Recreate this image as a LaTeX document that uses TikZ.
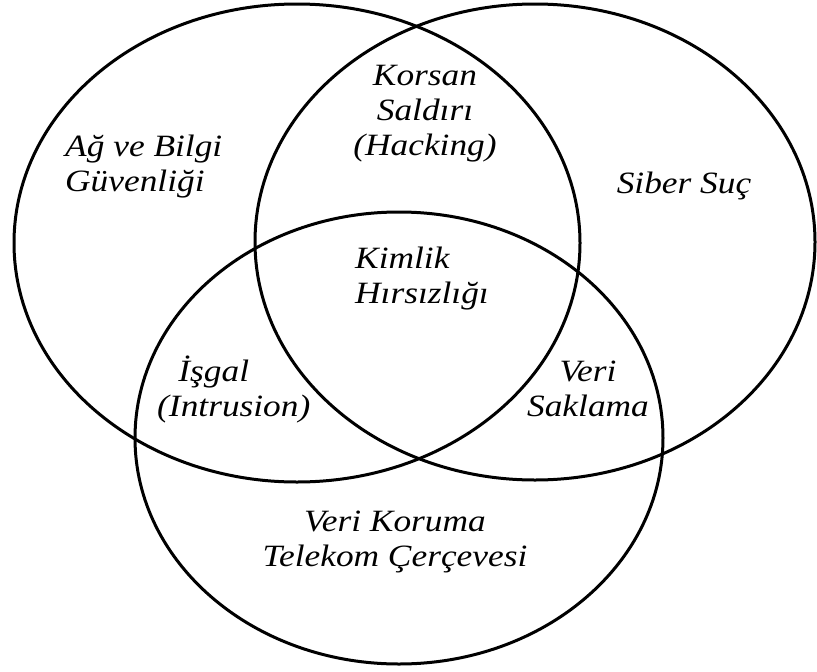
\documentclass[tikz,border=0pt]{standalone}
\usepackage{fontspec}
\setmainfont{Liberation Serif}
\usepackage{tikz}
\usetikzlibrary{positioning}

\tikzset{
  set/.style={draw=black, line width=3pt},
  area/.style={font=\fontsize{31}{35}\selectfont\itshape, inner sep=0pt,
    xscale=1.14, transform shape, align=center}
}

\begin{document}
\begin{tikzpicture}[x=1pt,y=-1pt]
  \useasboundingbox (0,0) rectangle (817,672);
  % Now the three sets
  \draw[set] (297,243) ellipse [x radius=283, y radius=239];
  \draw[set] (535,242) ellipse [x radius=280, y radius=238];
  \draw[set] (399,438) ellipse [x radius=264, y radius=226];
  % Now the labels of the areas
  \node[area, anchor=west, align=left] (ag) at (65,167) {Ağ ve Bilgi\\Güvenliği};
  \node[area] (korsan) at (425,114) {Korsan\\Saldırı\\(Hacking)};
  \node[area, anchor=base] (siber) at (684,193) {Siber Suç};
  \node[area, anchor=west, align=left] (kimlik) at (355,279) {Kimlik\\Hırsızlığı};
  \node[area, anchor=west, align=left] (isgal) at (157,390) {\hspace{0.6em}İşgal\\(Intrusion)};
  \node[area] (saklama) at (588,389) {Veri\\Saklama};
  \node[area] (koruma) at (395,542) {Veri Koruma\\Telekom Çerçevesi};
\end{tikzpicture}
\end{document}
